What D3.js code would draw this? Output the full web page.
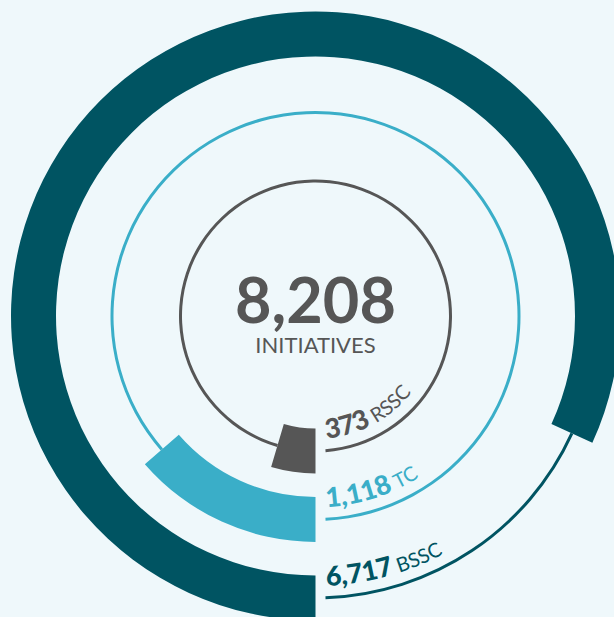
<!DOCTYPE html>
<html>
<head>
<meta charset="utf-8">
<script src="https://cdn.jsdelivr.net/npm/d3@7"></script>
<style>
  html, body { margin: 0; padding: 0; background: #eff8fb; }
  svg { display: block; font-family: Lato, "Open Sans", sans-serif; }
</style>
</head>
<body>
<div id="chart"></div>
<script>
var total = 8208;
var totalLabel = "INITIATIVES";
var groups = ["BSSC", "TC", "RSSC"];
var values = [6717, 1118, 373];
var colors = ["#005462", "#3aaec8", "#565656"];

var width = 614;
var height = 617;
var cx = 315.5;
var cy = 316;
var band = 45;
var lineW = 3;

var svg = d3.select("#chart")
  .append("svg")
  .attr("width", width)
  .attr("height", height);

svg.append("rect")
  .attr("width", width)
  .attr("height", height)
  .attr("fill", "#eff8fb");

var g = svg.append("g")
  .attr("transform", "translate(" + cx + "," + cy + ")");

// radius for each ring, angle for the running value (starting at 6 o'clock)
var radius = d3.scaleOrdinal().domain(groups).range([282, 203.5, 135]);
var angle = d3.scaleLinear().domain([0, total]).range([Math.PI, 3 * Math.PI]);
var color = d3.scaleOrdinal().domain(groups).range(colors);

var arc = d3.arc();
var fmt = d3.format(",");

var data = groups.map(function(k, i) {
  return { key: k, value: values[i] };
});

var ring = g.selectAll(".ring")
  .data(data)
  .enter().append("g")
  .attr("class", "ring");

// thin remainder of the circle
ring.append("path")
  .attr("fill", d => color(d.key))
  .attr("d", function(d) {
    var r = radius(d.key);
    var gap = 10 / r;
    return arc({
      innerRadius: r - lineW / 2,
      outerRadius: r + lineW / 2,
      startAngle: angle(d.value),
      endAngle: angle(total) - gap
    });
  });

// thick value arc
ring.append("path")
  .attr("fill", d => color(d.key))
  .attr("d", function(d) {
    var r = radius(d.key);
    return arc({
      innerRadius: r - band / 2,
      outerRadius: r + band / 2,
      startAngle: angle(0),
      endAngle: angle(d.value)
    });
  });

// label paths, running from the bottom up the right side
var defs = svg.append("defs");
data.forEach(function(d, i) {
  var r = radius(d.key) - 12;
  defs.append("path")
    .attr("id", "lp" + i)
    .attr("d", "M" + cx + "," + (cy + r) +
      "A" + r + "," + r + " 0 0,0 " + (cx + r) + "," + cy);
});

var label = svg.selectAll(".lbl")
  .data(data)
  .enter().append("text")
  .attr("class", "lbl")
  .attr("fill", d => color(d.key));

var tp = label.append("textPath")
  .attr("href", (d, i) => "#lp" + i)
  .attr("startOffset", 11);

tp.append("tspan")
  .attr("font-size", 27)
  .attr("font-weight", 900)
  .text(d => fmt(d.value));

tp.append("tspan")
  .attr("font-size", 20)
  .attr("font-weight", 400)
  .attr("dx", 5)
  .text(d => d.key);

// centre total
g.append("text")
  .attr("text-anchor", "middle")
  .attr("y", 7)
  .attr("font-size", 63)
  .attr("font-weight", 700)
  .attr("fill", "#565656")
  .text(fmt(total));

g.append("text")
  .attr("text-anchor", "middle")
  .attr("y", 37)
  .attr("font-size", 22)
  .attr("fill", "#565656")
  .text(totalLabel);
</script>
</body>
</html>
